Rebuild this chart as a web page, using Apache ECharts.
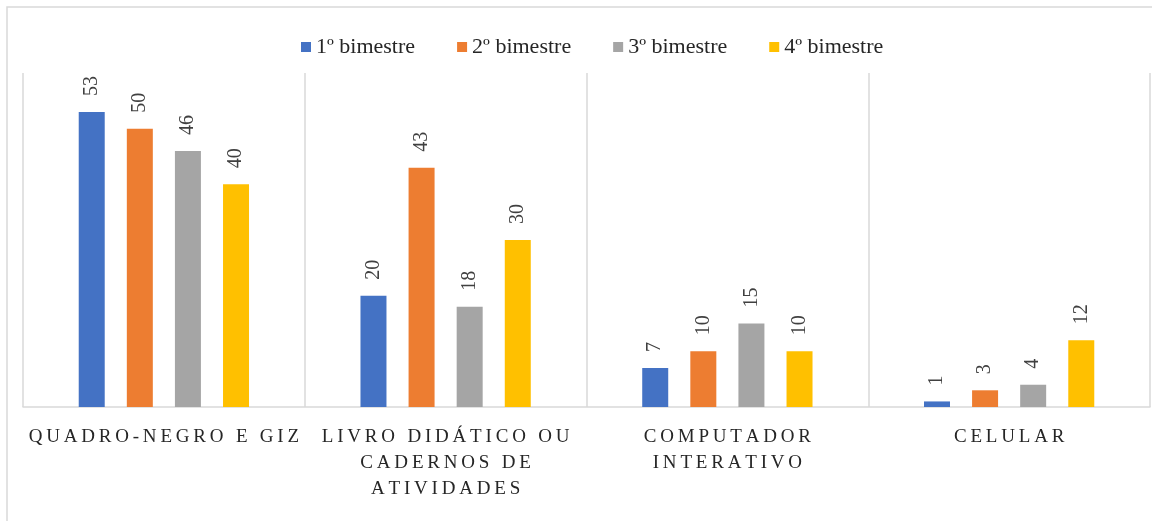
<!DOCTYPE html>
<html>
<head>
    <meta charset="utf-8">
    <title>Recursos por bimestre</title>
    <script src="https://cdn.jsdelivr.net/npm/echarts@6/dist/echarts.min.js"></script>
    <style>
        html, body { margin: 0; padding: 0; background: #fff; }
    </style>
</head>
<body>
    <div id="chart" style="width: 1152px;height:521px;"></div>
    <script type="text/javascript">
        // dados do gráfico
        var categories = ['Quadro-negro e giz', 'Livro didático ou\ncadernos de\natividades', 'Computador\ninterativo', 'Celular'];
        var seriesNames = ['1º bimestre', '2º bimestre', '3º bimestre', '4º bimestre'];
        var bim1 = [53, 20, 7, 1];
        var bim2 = [50, 43, 10, 3];
        var bim3 = [46, 18, 15, 4];
        var bim4 = [40, 30, 10, 12];
        var colors = ['#4472C4', '#ED7D31', '#A5A5A5', '#FFC000'];

        var myChart = echarts.init(document.getElementById('chart'));

        function makeSeries(name, data, color) {
            return {
                name: name,
                type: 'bar',
                data: data,
                barWidth: 26,
                barGap: '85%',
                itemStyle: { color: color },
                label: {
                    show: true,
                    position: 'top',
                    distance: 16,
                    rotate: 90,
                    align: 'left',
                    verticalAlign: 'middle',
                    color: '#404040',
                    fontFamily: 'Liberation Serif',
                    fontSize: 20
                }
            };
        }

        var option = {
            backgroundColor: '#fff',
            color: colors,
            animation: false,
            graphic: [{
                type: 'rect',
                shape: { x: 7, y: 7, width: 1200, height: 600 },
                style: { fill: 'none', stroke: '#d9d9d9', lineWidth: 1.5 },
                silent: true
            }],
            legend: {
                top: 31,
                left: 296,
                itemWidth: 10,
                itemHeight: 10,
                itemGap: 42,
                icon: 'rect',
                textStyle: {
                    fontFamily: 'Liberation Serif',
                    fontSize: 22,
                    color: '#262626'
                },
                data: seriesNames
            },
            grid: {
                left: 23,
                right: 2,
                top: 73,
                bottom: 114
            },
            xAxis: {
                type: 'category',
                data: categories,
                axisLine: { lineStyle: { color: '#d9d9d9', width: 1.5 } },
                axisTick: { show: false },
                splitLine: { show: true, interval: 0, lineStyle: { color: '#d9d9d9', width: 1.5 } },
                axisLabel: {
                    interval: 0,
                    margin: 17,
                    color: '#262626',
                    fontFamily: 'Liberation Serif',
                    fontSize: 19,
                    lineHeight: 26,
                    // espaçamento entre letras como no original
                    formatter: function (v) {
                        return v.toUpperCase().split('\n').map(function (l) {
                            return l.split('').join('\u2009');
                        }).join('\n');
                    }
                }
            },
            yAxis: {
                type: 'value',
                min: 0,
                max: 60,
                show: false,
                splitLine: { show: false }
            },
            series: [
                makeSeries(seriesNames[0], bim1, colors[0]),
                makeSeries(seriesNames[1], bim2, colors[1]),
                makeSeries(seriesNames[2], bim3, colors[2]),
                makeSeries(seriesNames[3], bim4, colors[3])
            ]
        };
        myChart.setOption(option);
    </script>
</body>
</html>
